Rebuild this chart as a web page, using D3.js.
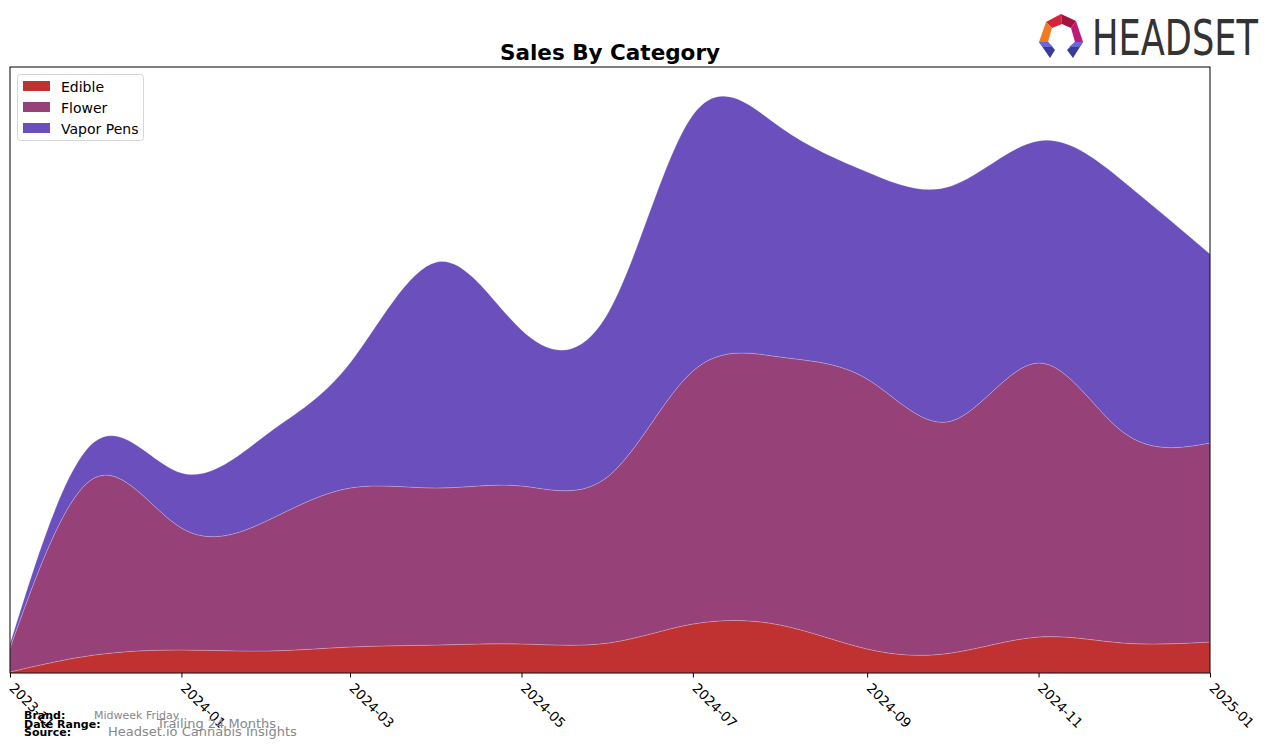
<!DOCTYPE html>
<html>
<head>
<meta charset="utf-8">
<script src="https://cdn.jsdelivr.net/npm/d3@7"></script>
<style>
  html, body { margin: 0; padding: 0; background: #fff; }
  svg { display: block; }
  text { font-family: "DejaVu Sans", sans-serif; }
</style>
</head>
<body>
<svg id="chart" width="1276" height="748"></svg>
<script>
// ---- data (arbitrary sales units) ----
const months = ["2023-11","2023-12","2024-01","2024-02","2024-03","2024-04","2024-05",
                "2024-06","2024-07","2024-08","2024-09","2024-10","2024-11","2024-12","2025-01"];
const categories = ["Edible", "Flower", "Vapor Pens"];
const edible    = [1, 18, 23, 22, 26, 28, 29, 30, 49, 48, 24, 20, 36, 30, 31];
const flower    = [24, 177, 122, 131, 159, 157, 158, 167, 253, 268, 270, 232, 274, 211, 199];
const vaporPens = [4, 36, 55, 87, 125, 226, 156, 164, 256, 230, 207, 235, 222, 251, 189];
const tickLabels = ["2023-11","2024-01","2024-03","2024-05","2024-07","2024-09","2024-11","2025-01"];
const colors = ["#C03232", "#964278", "#6A4FBD"];

// ---- layout ----
const svg = d3.select("#chart");
const plot = { left: 10, right: 1210, top: 67, bottom: 673 };
const parse = d3.timeParse("%Y-%m");

const rows = months.map((m, i) => ({
  date: parse(m), "Edible": edible[i], "Flower": flower[i], "Vapor Pens": vaporPens[i]
}));

const x = d3.scaleTime()
  .domain([parse(months[0]), parse(months[months.length - 1])])
  .range([plot.left, plot.right]);
const y = d3.scaleLinear().domain([0, 606]).range([plot.bottom, plot.top]);

const stack = d3.stack().keys(categories);
const series = stack(rows);

const area = d3.area()
  .x(d => x(d.data.date))
  .y0(d => y(d[0]))
  .y1(d => y(d[1]))
  .curve(d3.curveNatural);

svg.append("clipPath").attr("id", "clip")
  .append("rect").attr("x", plot.left).attr("y", plot.top)
  .attr("width", plot.right - plot.left).attr("height", plot.bottom - plot.top);

const g = svg.append("g").attr("clip-path", "url(#clip)");
g.selectAll("path.layer").data(series).join("path")
  .attr("class", "layer")
  .attr("d", area)
  .attr("fill", (d, i) => colors[i])
  .attr("stroke", "rgba(255,255,255,0.25)")
  .attr("stroke-width", 0.8);

// frame
svg.append("rect")
  .attr("x", plot.left).attr("y", plot.top)
  .attr("width", plot.right - plot.left).attr("height", plot.bottom - plot.top)
  .attr("fill", "none").attr("stroke", "#000").attr("stroke-width", 1);

// x axis
const xAxis = d3.axisBottom(x)
  .tickValues(tickLabels.map(parse))
  .tickFormat(d3.timeFormat("%Y-%m"))
  .tickSize(4.5)
  .tickSizeOuter(0);
const ax = svg.append("g").attr("transform", `translate(0,${plot.bottom})`).call(xAxis);
ax.select(".domain").remove();
ax.selectAll(".tick line").attr("stroke", "#000").attr("stroke-width", 1);
ax.selectAll(".tick text")
  .attr("font-family", "DejaVu Sans, sans-serif")
  .attr("font-size", 13.5)
  .attr("fill", "#000")
  .attr("text-anchor", "start")
  .attr("x", 0).attr("y", 0).attr("dy", 0)
  .attr("transform", "translate(-2,16) rotate(45)");

// title
svg.append("text")
  .attr("x", 610).attr("y", 60)
  .attr("text-anchor", "middle")
  .attr("font-size", 21.5).attr("font-weight", "bold")
  .attr("fill", "#000")
  .text("Sales By Category");

// legend
const lg = svg.append("g");
lg.append("rect")
  .attr("x", 17.5).attr("y", 74.5).attr("width", 126).attr("height", 66)
  .attr("rx", 3).attr("fill", "#fff").attr("fill-opacity", 0.8)
  .attr("stroke", "#d6d6d6").attr("stroke-width", 1);
categories.forEach((c, i) => {
  const yy = 87 + i * 21;
  lg.append("rect").attr("x", 23).attr("y", yy - 6).attr("width", 27).attr("height", 10)
    .attr("fill", colors[i]);
  lg.append("text").attr("x", 61).attr("y", yy + 5)
    .attr("font-size", 14).attr("fill", "#000").text(c);
});

// footer
const foot = [
  { label: "Brand:", value: "Midweek Friday", vx: 94, y: 719, vs: 11 },
  { label: "Date Range:", value: "Trailing 24 Months", vx: 157, y: 728, vs: 13 },
  { label: "Source:", value: "Headset.io Cannabis Insights", vx: 108, y: 736, vs: 13 }
];
foot.forEach(f => {
  svg.append("text").attr("x", 24).attr("y", f.y)
    .attr("font-size", 11).attr("font-weight", "bold").attr("fill", "#000").text(f.label);
  svg.append("text").attr("x", f.vx).attr("y", f.y)
    .attr("font-size", f.vs).attr("fill", "#888").text(f.value);
});

// logo
const logo = svg.append("g");
const polys = [
  { p: [[1046,22],[1061,14],[1062,24],[1052,28]], c: "#d4233a" },
  { p: [[1061,14],[1076,21],[1071,28],[1062,24]], c: "#a3123a" },
  { p: [[1076,21],[1083,42],[1075,42],[1071,28]], c: "#c0197a" },
  { p: [[1046,22],[1052,28],[1048,42],[1039,42]], c: "#f07a22" },
  { p: [[1039,42],[1048,42],[1055,50],[1050,58]], c: "#3a3a9a" },
  { p: [[1075,42],[1083,42],[1073,58],[1067,50]], c: "#3a3a9a" },
  { p: [[1039,42],[1048,42],[1053,47],[1043,47]], c: "#6a6ad6" },
  { p: [[1075,42],[1083,42],[1079,47],[1069,47]], c: "#6a6ad6" }
];
polys.forEach(o => {
  logo.append("polygon").attr("points", o.p.map(q => q.join(",")).join(" ")).attr("fill", o.c);
});
logo.append("text")
  .attr("x", 1092).attr("y", 55)
  .attr("font-family", "Liberation Sans Narrow, Arial Narrow, sans-serif")
  .attr("font-size", 49)
  .attr("fill", "#333")
  .attr("textLength", 166).attr("lengthAdjust", "spacingAndGlyphs")
  .text("HEADSET");
</script>
</body>
</html>
